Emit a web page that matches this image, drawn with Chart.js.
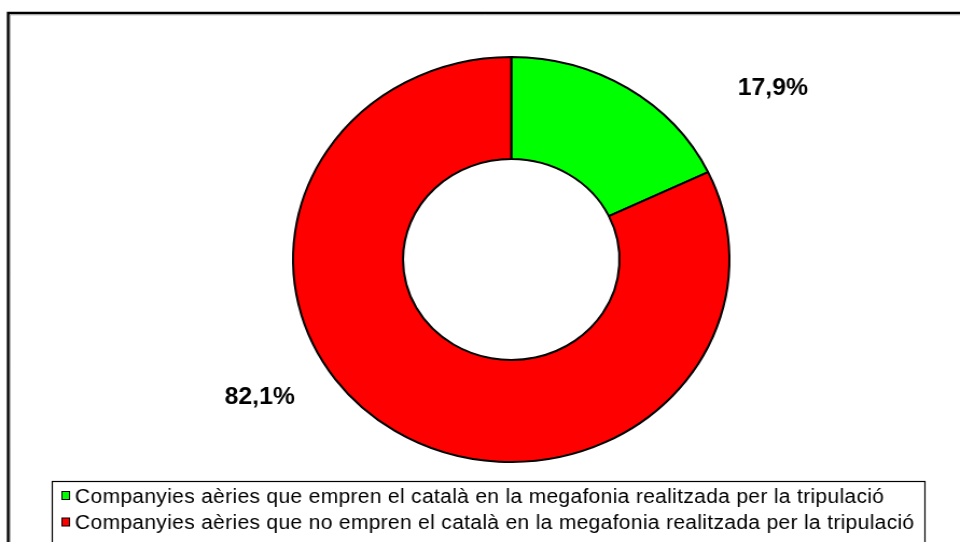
<!DOCTYPE html>
<html>
<head>
<meta charset="utf-8">
<script src="https://cdn.jsdelivr.net/npm/chart.js@4.4.1/dist/chart.umd.min.js"></script>
<style>
    html, body { margin: 0; padding: 0; background: #fff; overflow: hidden; }
    /* the original picture is stretched a little in width */
    #wrap { width: 891px; height: 542px; transform: scaleX(1.0774); transform-origin: 0 0; }
</style>
</head>
<body>
<div id="wrap"><canvas id="donut"></canvas></div>
<script>
// Data
const categories = [
    'Companyies aèries que empren el català en la megafonia realitzada per la tripulació',
    'Companyies aèries que no empren el català en la megafonia realitzada per la tripulació'
];
const shares = [17.9, 82.1];
const sliceColors = ['#00ff00', '#ff0000'];

// where the percent labels sit, relative to the ring (in outer radii)
const labelSpots = [
    { dx: 1.199, dy: -0.812 },
    { dx: -1.153, dy: 0.714 }
];

const fmtPct = v => v.toFixed(1).replace('.', ',') + '%';

const decorations = {
    id: 'decorations',
    beforeDraw(chart) {
        const ctx = chart.ctx;
        ctx.save();
        // outer frame (only top and left fall inside the picture)
        ctx.strokeStyle = '#000';
        ctx.lineWidth = 2.5;
        ctx.beginPath();
        ctx.moveTo(7.6, 600);
        ctx.lineTo(7.6, 13);
        ctx.lineTo(900, 13);
        ctx.stroke();
        ctx.strokeStyle = '#a0a0a0';
        ctx.lineWidth = 1;
        ctx.beginPath();
        ctx.moveTo(9.3, 600);
        ctx.lineTo(9.3, 14.8);
        ctx.lineTo(900, 14.8);
        ctx.stroke();
        ctx.restore();
    },
    afterDatasetsDraw(chart) {
        const ctx = chart.ctx;
        const arcs = chart.getDatasetMeta(0).data;
        ctx.save();
        ctx.fillStyle = '#000';
        ctx.font = 'bold 23px "Liberation Sans", Arial, sans-serif';
        ctx.textAlign = 'center';
        ctx.textBaseline = 'alphabetic';
        arcs.forEach((arc, i) => {
            const r = arc.outerRadius;
            ctx.fillText(fmtPct(shares[i]), arc.x + labelSpots[i].dx * r, arc.y + labelSpots[i].dy * r);
        });
        ctx.restore();
    },
    afterDraw(chart) {
        const ctx = chart.ctx;
        ctx.save();
        // legend box
        ctx.fillStyle = '#fff';
        ctx.fillRect(48.5, 481.5, 810, 62);
        ctx.strokeStyle = '#000';
        ctx.lineWidth = 1.2;
        ctx.strokeRect(48.5, 481.5, 810, 62);

        ctx.font = '19.5px "Liberation Sans", Arial, sans-serif';
        if ('letterSpacing' in ctx) ctx.letterSpacing = '0.3px';
        ctx.textAlign = 'left';
        ctx.textBaseline = 'alphabetic';
        categories.forEach((name, i) => {
            const base = 502.5 + i * 26.5;
            ctx.fillStyle = sliceColors[i];
            ctx.fillRect(57.5, base - 11, 7, 8);
            ctx.strokeStyle = '#000';
            ctx.lineWidth = 1;
            ctx.strokeRect(57.5, base - 11, 7, 8);
            ctx.fillStyle = '#000';
            ctx.fillText(name, 69.6, base);
        });
        ctx.restore();
    }
};

new Chart(document.getElementById('donut'), {
    type: 'doughnut',
    data: {
        labels: categories,
        datasets: [{
            data: shares,
            backgroundColor: sliceColors,
            borderColor: '#000',
            borderWidth: 2,
            hoverOffset: 0
        }]
    },
    options: {
        responsive: true,
        maintainAspectRatio: false,
        animation: false,
        radius: 202.5,
        cutout: '49.6%',
        layout: { padding: { top: 50, bottom: 73, left: 58, right: 0 } },
        plugins: {
            legend: { display: false },
            tooltip: { enabled: false }
        }
    },
    plugins: [decorations]
});
</script>
</body>
</html>
